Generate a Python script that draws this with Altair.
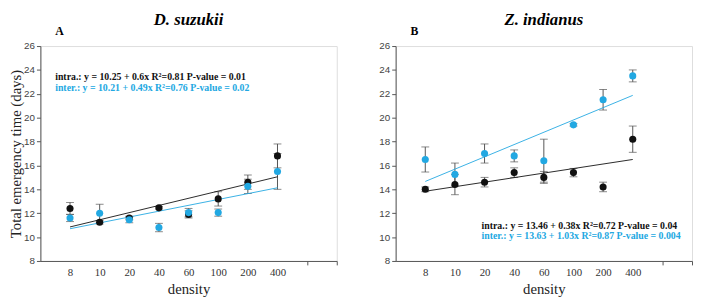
import altair as alt
import pandas as pd

# ---------------- data ----------------
density_labels = ["8", "10", "20", "40", "60", "100", "200", "400"]

# Panel A: D. suzukii
a_intra_mean = [12.4, 11.25, 11.6, 12.45, 11.9, 13.2, 14.6, 16.8]
a_intra_err = [0.5, 0.15, 0.15, 0.1, 0.3, 0.6, 0.6, 1.0]
a_inter_mean = [11.6, 12.0, 11.45, 10.8, 12.05, 12.05, 14.25, 15.5]
a_inter_err = [0.3, 0.75, 0.25, 0.35, 0.35, 0.3, 0.6, 1.5]

# Panel B: Z. indianus
b_intra_mean = [14.0, 14.4, 14.6, 15.4, 15.0, 15.4, 14.2, 18.2]
b_intra_err = [0.2, 0.85, 0.4, 0.4, 0.5, 0.35, 0.4, 1.1]
b_inter_mean = [16.5, 15.25, 17.0, 16.8, 16.4, 19.4, 21.5, 23.5]
b_inter_err = [1.05, 0.95, 0.8, 0.5, 1.8, 0.1, 0.86, 0.5]

# regression equations (intercept, slope) as printed on the chart
a_fit = {"intra": (10.25, 0.6), "inter": (10.21, 0.49)}
b_fit = {"intra": (13.46, 0.38), "inter": (13.63, 1.03)}

a_text = ["intra.: y = 10.25 + 0.6x  R\u00b2=0.81 P-value = 0.01",
          "inter.: y = 10.21 + 0.49x R\u00b2=0.76  P-value = 0.02"]
b_text = ["intra.: y = 13.46 + 0.38x  R\u00b2=0.72 P-value = 0.04",
          "inter.: y = 13.63 + 1.03x R\u00b2=0.87  P-value = 0.004"]

BLUE = "#22a8e2"
SERIF = "Liberation Serif"
SANS = "Liberation Sans"

label_arr = "[" + ",".join("'%s'" % s for s in density_labels) + "]"
label_expr = ("datum.value >= 1 && datum.value <= 8 ? " + label_arr +
              "[datum.value - 1] : ''")


def points_df(intra_m, intra_e, inter_m, inter_e):
    rows = []
    for i, lab in enumerate(density_labels):
        for s, m, e in (("intra", intra_m, intra_e), ("inter", inter_m, inter_e)):
            rows.append({"pos": i + 1, "label": lab, "series": s,
                         "mean": m[i], "lo": m[i] - e[i], "hi": m[i] + e[i]})
    return pd.DataFrame(rows)


def fit_df(fit):
    rows = []
    for s, (a, b) in fit.items():
        rows.append({"series": s, "x1": 1, "x2": 8, "y1": a + b * 1, "y2": a + b * 8})
    return pd.DataFrame(rows)


def panel(title, letter, pts, fit, texts, text_x, text_y, show_ytitle):
    x_axis = alt.Axis(tickCount=10, labelExpr=label_expr,
                      labelOverlap=False, labelBound=False, labelFlush=False,
                      title="density", titleFont=SERIF, titleFontSize=15,
                      titleFontWeight="normal", titleColor="#222",
                      labelFont=SERIF, labelFontSize=11, labelColor="#333",
                      labelAngle=0, grid=False, domainColor="#555",
                      tickColor="#555", tickSize=4,
                      tickOpacity=alt.condition("datum.value >= 9", alt.value(1), alt.value(0)),
                      labelPadding=2, titlePadding=4)
    y_axis = alt.Axis(tickCount=9, grid=False,
                      labelOverlap=False, labelBound=False, labelFlush=False,
                      title="Total emergency time (days)" if show_ytitle else "",
                      titleFont=SERIF, titleFontSize=15, titleFontWeight="normal",
                      titleColor="#222", titlePadding=0,
                      labelFont=SANS, labelFontSize=10, labelColor="#444",
                      domainColor="#555", tickColor="#555", tickSize=4,
                      labelPadding=2)
    xs = alt.Scale(domain=[0, 10], nice=False, zero=False)
    ys = alt.Scale(domain=[8, 26], nice=False, zero=False)
    color = alt.Scale(domain=["intra", "inter"], range=["#111111", BLUE])

    base = alt.Chart(pts)
    err = base.mark_errorbar(ticks={"size": 8}, color="#555", thickness=1).encode(
        x=alt.X("pos:Q", scale=xs, axis=x_axis),
        y=alt.Y("lo:Q", scale=ys, axis=y_axis),
        y2="hi:Q")
    dots = base.mark_circle(size=52, opacity=1).encode(
        x=alt.X("pos:Q", scale=xs),
        y=alt.Y("mean:Q", scale=ys),
        color=alt.Color("series:N", scale=color, legend=None),
        order=alt.Order("series:N", sort="descending"))
    lines = alt.Chart(fit).mark_rule(strokeWidth=0.9).encode(
        x=alt.X("x1:Q", scale=xs), x2="x2:Q",
        y=alt.Y("y1:Q", scale=ys), y2="y2:Q",
        color=alt.Color("series:N", scale=color, legend=None))
    tdf = pd.DataFrame({"txt": texts, "series": ["intra", "inter"],
                        "x": [text_x, text_x], "y": text_y})
    ann = alt.Chart(tdf).mark_text(align="left", baseline="middle", font=SERIF,
                                   fontWeight="bold", fontSize=10).encode(
        x=alt.X("x:Q", scale=xs), y=alt.Y("y:Q", scale=ys),
        text="txt:N",
        color=alt.Color("series:N", scale=color, legend=None))
    let = alt.Chart(pd.DataFrame({"t": [letter], "x": [0.5], "y": [27.25]})).mark_text(
        align="left", baseline="middle", font=SERIF, fontWeight="bold",
        fontSize=12, color="#000").encode(
        x=alt.X("x:Q", scale=xs), y=alt.Y("y:Q", scale=ys),
        text="t:N")
    return alt.layer(err, lines, dots, ann, let).properties(
        width=302, height=219,
        title=alt.Title(title, font=SERIF, fontStyle="italic", fontWeight="bold",
                        fontSize=17, color="#000", anchor="middle", offset=-4))


pa = panel("D. suzukii", "A", points_df(a_intra_mean, a_intra_err, a_inter_mean, a_inter_err),
           fit_df(a_fit), a_text, 0.5, [23.4, 22.45], True)
pb = panel("Z. indianus", "B", points_df(b_intra_mean, b_intra_err, b_inter_mean, b_inter_err),
           fit_df(b_fit), b_text, 2.9, [10.95, 10.1], False)

chart = alt.hconcat(pa, pb, spacing=41).properties(
    padding={"left": 0, "top": 0, "right": 0, "bottom": 0}
).configure_view(stroke=None).configure_axis(labelOverlap=False).configure(background="white")

chart.save("out.html", embed_options={"renderer": "svg", "actions": False})
